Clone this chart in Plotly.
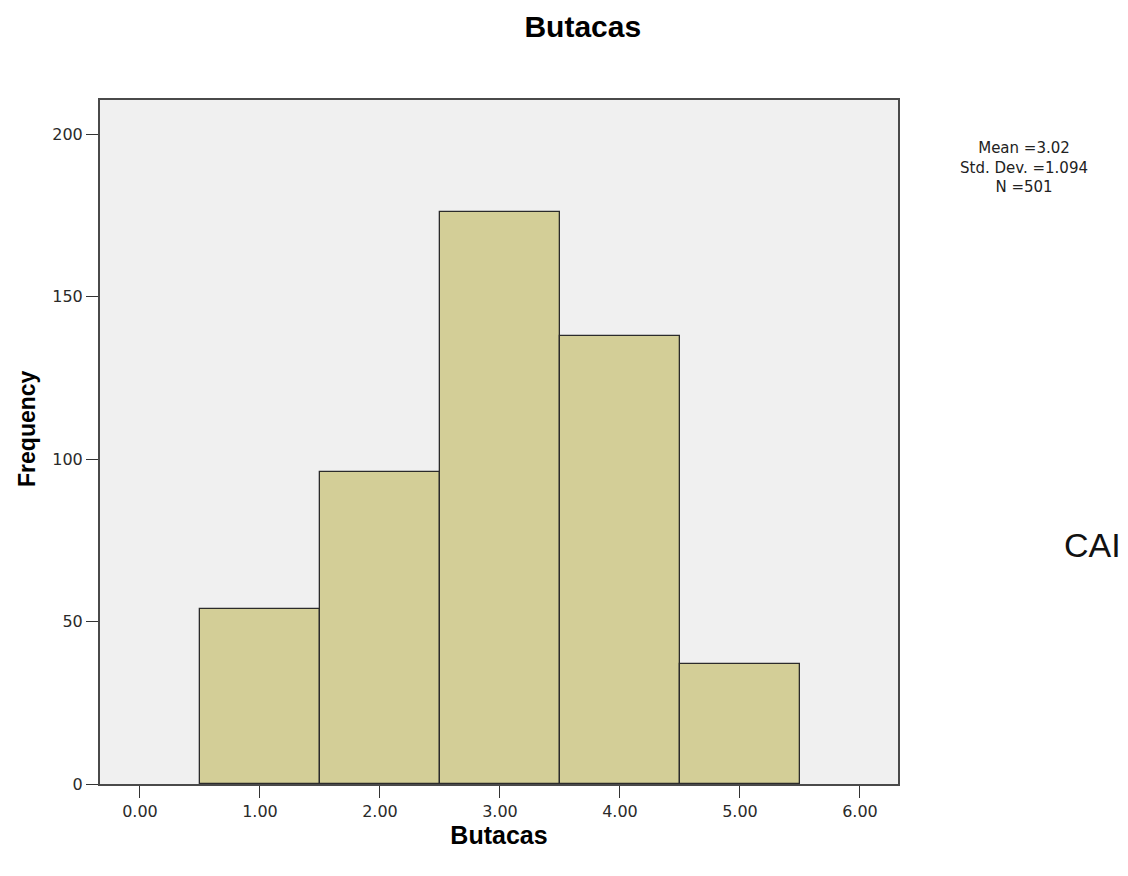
import plotly.graph_objects as go

categories = [1, 2, 3, 4, 5]
frequencies = [54, 96, 176, 138, 37]
x_tick_vals = [0, 1, 2, 3, 4, 5, 6]
x_tick_text = ["0.00", "1.00", "2.00", "3.00", "4.00", "5.00", "6.00"]
y_tick_vals = [0, 50, 100, 150, 200]
stats_text = "Mean =3.02<br>Std. Dev. =1.094<br>N =501"

fig = go.Figure()
fig.add_trace(go.Bar(
    x=categories, y=frequencies, width=1.0,
    marker=dict(color="#D3CE97", line=dict(color="#2b2b2b", width=1.3)),
    hoverinfo="x+y",
))

tick_font = "DejaVu Sans, Liberation Sans, Arial, sans-serif"
bold_font = "Liberation Sans, Arial, sans-serif"

# page has an 8px body margin; figure is sized so the page fits the window
fig.update_layout(
    width=1112, height=860,
    margin=dict(l=92, r=222, t=92, b=84),
    paper_bgcolor="white", plot_bgcolor="#F0F0F0",
    showlegend=False, bargap=0,
    title=dict(text="<b>Butacas</b>", xref="paper", x=0.605, xanchor="center",
               yref="container", y=0.978, yanchor="middle",
               font=dict(family=bold_font, size=30, color="#000")),
    font=dict(family=tick_font, color="#222"),
)
fig.update_xaxes(
    range=[-0.333, 6.317], tickvals=x_tick_vals, ticktext=x_tick_text,
    ticks="outside", ticklen=12, tickwidth=1.4, tickcolor="#333",
    showgrid=False, zeroline=False, showline=True, linecolor="#4a4a4a", linewidth=2, mirror=True,
    tickfont=dict(size=16, color="#2a2a2a", family=tick_font),
    title=dict(text="<b>Butacas</b>", font=dict(size=25, color="#000", family=bold_font), standoff=2),
)
fig.update_yaxes(
    range=[0, 210.5], tickvals=y_tick_vals,
    ticks="outside", ticklen=12, tickwidth=1.4, tickcolor="#333",
    showgrid=False, zeroline=False, showline=True, linecolor="#4a4a4a", linewidth=2, mirror=True,
    tickfont=dict(size=16, color="#2a2a2a", family=tick_font),
)
fig.add_annotation(
    text="<b>Frequency</b>", xref="paper", yref="paper", x=-0.0915, y=0.5205,
    xanchor="center", yanchor="middle", textangle=-90, showarrow=False,
    font=dict(size=23, color="#000", family=bold_font),
)
fig.add_annotation(
    text=stats_text, xref="paper", yref="paper", x=1.158, y=0.902,
    xanchor="center", yanchor="middle", showarrow=False, align="center",
    font=dict(size=15, color="#222", family=tick_font),
)
fig.add_annotation(
    text="CAI", xref="paper", yref="paper", x=1.2055, y=0.349,
    xanchor="left", yanchor="middle", showarrow=False,
    font=dict(size=34, color="#111", family=bold_font),
)
fig.write_html("out.html")
